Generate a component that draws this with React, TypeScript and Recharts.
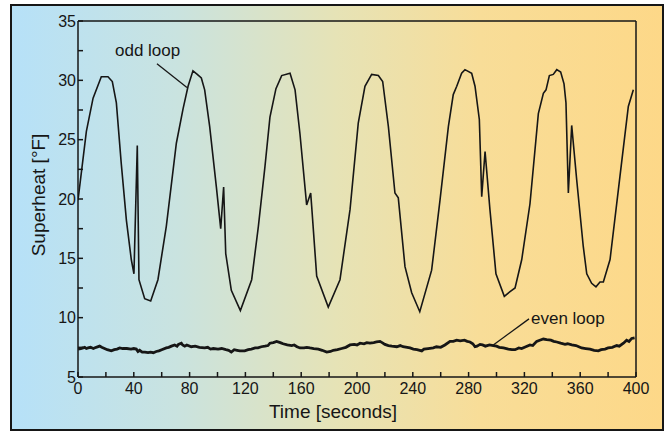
import React from 'react';
import { LineChart, Line, XAxis, YAxis, ReferenceLine } from 'recharts';

// odd loop superheat
const oddTime = [
  0, 6, 10.8, 16.7, 21.5, 24.6, 27.5, 31, 34.7, 38.2, 40.1, 42.5, 43.7, 47.8, 52.1, 57.3, 63.3, 70.5, 75.3, 78.9,
  82.4, 85.5, 88.4, 90.8, 94.4, 99.2, 102.3, 104.4, 105.9, 109.9, 116.4, 124.5, 129.3, 134, 137.6, 141.9, 146, 152,
  155.6, 159.1, 163.9, 166.8, 167.5, 171.1, 179.4, 187.8, 195, 200.9, 205.7, 210.5, 215.3, 218.4, 222.5, 227.2,
  229.6, 234.4, 239.2, 245, 253.5, 259.5, 265.5, 269, 271.5, 275, 277.4, 282.2, 284.6, 287.7, 289.4, 291.8, 295.3,
  299.6, 305.6, 309.7, 313.3, 318.1, 324, 330, 333.6, 335.5, 337.9, 340.7, 343.2, 346, 348.4, 349.8, 351.5, 353.9,
  357.5, 362.2, 364.7, 368.2, 371.3, 374.2, 376.6, 381.4, 388.5, 394.5, 398.1,
];
const oddValue = [
  19.9, 25.7, 28.5, 30.3, 30.3, 29.9, 28.1, 23.0, 18.2, 14.9, 13.7, 24.5, 13.2, 11.6, 11.4, 13.2, 17.7, 24.7, 27.6, 29.5,
  30.8, 30.5, 30.2, 29.2, 26.1, 21.0, 17.5, 21.0, 15.4, 12.3, 10.6, 13.2, 17.7, 22.7, 26.9, 29.3, 30.4, 30.6,
  29.2, 25.5, 19.5, 20.5, 19.4, 13.5, 10.9, 13.2, 19.1, 26.4, 29.5, 30.5, 30.4, 29.9, 26.1, 20.5,
  20.1, 14.3, 12.1, 10.5, 14.0, 19.9, 26.1, 28.8, 29.5, 30.6, 30.9, 30.6, 29.5, 26.7, 20.2, 24.0, 19.1,
  13.7, 11.8, 12.2, 12.5, 14.9, 19.6, 27.2, 28.9, 29.2, 30.4, 30.5, 30.9, 30.7, 29.7, 28.1, 20.5, 26.2,
  21.6, 16.0, 13.7, 12.9, 12.6, 13.0, 13.0, 14.9, 21.9, 27.8, 29.2,
];

// even loop superheat
const evenTime = [
  0, 2, 4.8, 6, 7.2, 9, 11, 13, 15.5, 17, 19, 21, 23.9, 26, 28, 29.9, 32, 35, 38, 40, 41.8, 43, 44.2, 46, 48, 50.2,
  52, 54, 56.1, 58, 60, 63.3, 65, 67, 69.3, 71, 72, 74.1, 75, 76.5, 78, 81.2, 84, 87, 90.8, 93, 95, 97, 100.4, 103,
  106, 108, 109.9, 112, 114, 116, 119.5, 122, 124.3, 127, 129, 131.4, 134, 136.2, 137.6, 140, 142.4, 145, 147, 150,
  153.2, 155, 157, 159.1, 162, 164, 166.3, 169, 172.3, 175, 178.3, 181, 183, 186, 189, 192, 195, 198, 200, 202.2,
  205, 207, 209.3, 212, 214, 216.5, 218, 220, 222.5, 225, 228.5, 231, 233, 236, 238, 240.4, 243, 246.4, 248, 251,
  254.7, 257, 260, 263, 266.7, 269, 271.5, 274, 277, 279, 281, 283, 284.6, 286, 288.2, 290, 292, 295, 297.7, 300,
  302, 305, 308.5, 311, 313.3, 316, 318, 321, 324, 326, 328.8, 331, 333.6, 336, 339, 341, 343.2, 346, 349.1, 351,
  354, 357, 359, 361, 364, 367, 370, 373, 375, 377.8, 380, 383, 386.2, 388, 391, 393.3, 395, 396.9, 399,
];
const evenValue = [
  7.35, 7.4, 7.5, 7.4, 7.45, 7.5, 7.4, 7.5, 7.6, 7.5, 7.4, 7.3, 7.2, 7.3, 7.35, 7.45, 7.4, 7.4, 7.35, 7.4, 7.35, 7.15,
  7.25, 7.1, 7.1, 7.05, 7.1, 7.05, 7.15, 7.2, 7.3, 7.45, 7.5, 7.6, 7.7, 7.6, 7.75, 7.85, 7.7, 7.6, 7.7, 7.55, 7.6,
  7.5, 7.45, 7.5, 7.35, 7.4, 7.35, 7.4, 7.3, 7.25, 7.1, 7.3, 7.25, 7.2, 7.2, 7.3, 7.35, 7.45, 7.45, 7.55, 7.6, 7.65,
  7.85, 7.9, 8.0, 7.9, 7.8, 7.7, 7.65, 7.7, 7.55, 7.45, 7.45, 7.5, 7.45, 7.4, 7.35, 7.25, 7.1, 7.15, 7.25, 7.3, 7.4,
  7.5, 7.7, 7.75, 7.7, 7.85, 7.8, 7.9, 7.85, 7.9, 7.95, 8.0, 7.9, 7.75, 7.65, 7.6, 7.55, 7.65, 7.55, 7.5, 7.45, 7.35,
  7.3, 7.2, 7.35, 7.4, 7.45, 7.55, 7.5, 7.7, 8.0, 8.0, 8.1, 8.05, 8.1, 8.0, 7.95, 7.8, 7.55, 7.6, 7.75, 7.7, 7.6, 7.7,
  7.65, 7.6, 7.5, 7.45, 7.35, 7.3, 7.3, 7.45, 7.4, 7.55, 7.7, 7.65, 8.0, 8.1, 8.2, 8.15, 8.1, 8.0, 7.95, 7.85, 7.75,
  7.8, 7.7, 7.65, 7.55, 7.45, 7.4, 7.35, 7.25, 7.2, 7.3, 7.35, 7.45, 7.5, 7.65, 7.6, 7.85, 8.1, 8.0, 8.25, 8.3,
];

const xTicks = [0, 20, 40, 60, 80, 100, 120, 140, 160, 180, 200, 220, 240, 260, 280, 300, 320, 340, 360, 380, 400];
const yTicks = [5, 7.5, 10, 12.5, 15, 17.5, 20, 22.5, 25, 27.5, 30, 32.5, 35];

const oddData = oddTime.map((t, i) => ({ t, v: oddValue[i] }));
const evenData = evenTime.map((t, i) => ({ t, v: evenValue[i] }));

const FONT = '"Liberation Sans", Arial, Helvetica, sans-serif';
const INK = '#161616';
const tickStyle = { fontSize: 16, fill: INK, fontFamily: FONT };

export default function App() {
  return (
    <div style={{ position: 'absolute', left: 0, top: 0, width: 668, height: 432, background: '#fff', fontFamily: FONT }}>
      <div
        style={{
          position: 'absolute', left: 10, top: 4, width: 654, height: 427, boxSizing: 'border-box',
          border: `2.5px solid ${INK}`,
          background: 'linear-gradient(to right, #b6e1f8 0%, #c9e3e0 25%, #e6e3b6 50%, #f8dd98 72%, #fdd888 100%)',
        }}
      />
      <div style={{ position: 'absolute', left: 0, top: 0 }}>
        <LineChart width={668} height={432} margin={{ top: 20, right: 31, bottom: 25, left: 30 }}>
          <XAxis
            dataKey="t" type="number" domain={[0, 400]} ticks={xTicks} allowDataOverflow
            height={30} tickSize={-5} tickMargin={11}
            tickFormatter={v => (v % 40 === 0 ? String(v) : '')}
            tick={tickStyle} stroke={INK} strokeWidth={1.5}
          />
          <XAxis
            xAxisId="top" dataKey="t" orientation="top" type="number" domain={[0, 400]} ticks={xTicks} allowDataOverflow
            height={1} tickSize={-5} tick={false} stroke={INK} strokeWidth={1.5}
          />
          <YAxis
            type="number" domain={[5, 35]} ticks={yTicks} allowDataOverflow
            width={48} tickSize={-5} tickMargin={7}
            tickFormatter={v => (v % 5 === 0 ? String(v) : '')}
            tick={tickStyle} stroke={INK} strokeWidth={1.5}
          />
          <YAxis
            yAxisId="right" orientation="right" type="number" domain={[5, 35]} ticks={yTicks} allowDataOverflow
            width={1} tickSize={-5} tick={false} stroke={INK} strokeWidth={1.5}
          />
          <Line data={evenData} dataKey="v" type="linear" stroke={INK} strokeWidth={2.8} dot={false} isAnimationActive={false} />
          <Line
            data={oddData} dataKey="v" xAxisId="top" yAxisId="right" type="linear"
            stroke={INK} strokeWidth={1.6} dot={false} isAnimationActive={false}
          />
          <ReferenceLine segment={[{ x: 56.6, y: 31.4 }, { x: 78.1, y: 29.4 }]} stroke={INK} strokeWidth={1.3} />
          <ReferenceLine segment={[{ x: 323.3, y: 9.9 }, { x: 297.7, y: 7.7 }]} stroke={INK} strokeWidth={1.3} />
        </LineChart>
      </div>
      <svg width={668} height={432} style={{ position: 'absolute', left: 0, top: 0, pointerEvents: 'none' }}>
        <g fontFamily={FONT} fill={INK}>
          <text x={115} y={56} fontSize={17}>odd loop</text>
          <text x={531} y={324} fontSize={17}>even loop</text>
          <text x={333} y={418} fontSize={19} textAnchor="middle">Time [seconds]</text>
          <text transform="translate(45,195) rotate(-90)" fontSize={19} textAnchor="middle">Superheat [°F]</text>
        </g>
      </svg>
    </div>
  );
}
